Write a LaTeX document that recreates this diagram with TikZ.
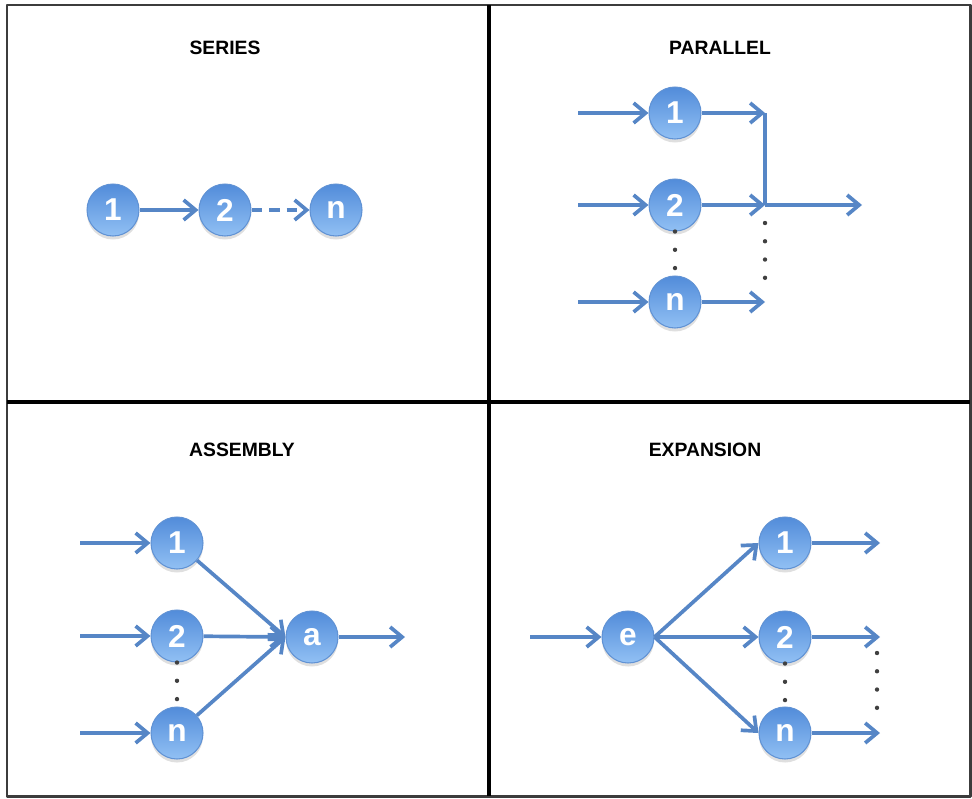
\documentclass[tikz,border=0pt]{standalone}
\usepackage{fontspec}
\setmainfont{Liberation Sans}
\usetikzlibrary{arrows.meta,shadows}
\definecolor{flowblue}{RGB}{86,134,198}
\definecolor{balltop}{RGB}{82,140,218}
\definecolor{ballbot}{RGB}{145,192,244}
\definecolor{ballrim}{RGB}{96,146,212}
\definecolor{framegray}{RGB}{60,60,60}
\begin{document}
\begin{tikzpicture} [x=0.02cm, y=-0.02cm, line join=round, >={Straight Barb[length=2.4mm,width=4mm]},
	ball/.style={circle, minimum size=1.04cm, inner sep=0pt, top color=balltop, bottom color=ballbot, draw=ballrim, line width=0.6pt, text=white, font=\bfseries\fontsize{18}{18}\selectfont, drop shadow={shadow xshift=0pt, shadow yshift=-2pt, opacity=0.25}},
	flow/.style={draw=flowblue, line width=2.1pt, ->},
	title/.style={font=\bfseries\fontsize{11}{13}\selectfont},
	dots/.style={draw=black!75, line width=2.5pt, line cap=round, dash pattern=on 0pt off 10.4pt}]
				\useasboundingbox (0,0) rectangle (972,798);
				\draw[framegray, line width=1.7pt] (7,5) rectangle (970,796);
				\draw[black, line width=1.8pt] (489,5)--(489,796);
				\draw[black, line width=1.8pt] (7,402)--(970,402);
				% series
				\node[title] (ttlS) at (225,48) {SERIES};
				\node[ball] (s1) at (113,210) {1};
				\node[ball] (s2) at (225,210) {2};
				\node[ball] (sn) at (336,210) {n};
				\draw[flow] (s1)--(s2);
				\draw[flow, dash pattern=on 6pt off 4pt] (s2)--(sn);
				% parallel
				\node[title] (ttlP) at (720,48) {PARALLEL};
				\node[ball] (p1) at (675,113) {1};
				\node[ball] (p2) at (675,205) {2};
				\node[ball] (pn) at (675,302) {n};
				\path
				(578,113) coordinate(pin1)
				(578,205) coordinate(pin2)
				(578,302) coordinate(pinn)
				(765,113) coordinate(pj1)
				(765,205) coordinate(pj2)
				(765,302) coordinate(pjn)
				(765,223) coordinate(pdtop)
				(765,280) coordinate(pdbot)
				(862,205) coordinate(pout);
				\draw[flow] (pin1)--(p1);
				\draw[flow] (pin2)--(p2);
				\draw[flow] (pinn)--(pn);
				\draw[flow] (p1)--(pj1);
				\draw[flow] (p2)--(pj2);
				\draw[flow] (pn)--(pjn);
				\draw[flow, -] (pj1)--(pj2);
				\draw[flow] (pj2)--(pout);
				\draw[dots] (p2.south)--(pn.north);
				\draw[dots] (pdtop)--(pdbot);
				% assembly
				\node[title] (ttlA) at (242,450) {ASSEMBLY};
				\node[ball] (a1) at (177,543) {1};
				\node[ball] (a2) at (177,636) {2};
				\node[ball] (an) at (177,733) {n};
				\node[ball] (aa) at (312,637) {a};
				\path
				(80,543) coordinate(ain1)
				(80,636) coordinate(ain2)
				(80,733) coordinate(ainn)
				(405,637) coordinate(aout);
				\draw[flow] (ain1)--(a1);
				\draw[flow] (ain2)--(a2);
				\draw[flow] (ainn)--(an);
				\draw[flow] (a1)--(aa.west);
				\draw[flow] (a2)--(aa.west);
				\draw[flow] (an)--(aa.west);
				\draw[flow] (aa)--(aout);
				\draw[dots] (a2.south)--(an.north);
				% expansion
				\node[title] (ttlE) at (705,450) {EXPANSION};
				\node[ball] (ee) at (628,637) {e};
				\node[ball] (e1) at (785,543) {1};
				\node[ball] (e2) at (785,637) {2};
				\node[ball] (en) at (785,733) {n};
				\path
				(530,637) coordinate(ein)
				(880,543) coordinate(eout1)
				(880,637) coordinate(eout2)
				(880,733) coordinate(eoutn)
				(877,653) coordinate(edtop)
				(877,710) coordinate(edbot);
				\draw[flow] (ein)--(ee);
				\draw[flow] (ee.east)--(e1.west);
				\draw[flow] (ee.east)--(e2.west);
				\draw[flow] (ee.east)--(en.west);
				\draw[flow] (e1)--(eout1);
				\draw[flow] (e2)--(eout2);
				\draw[flow] (en)--(eoutn);
				\draw[dots] (e2.south)--(en.north);
				\draw[dots] (edtop)--(edbot);
			\end{tikzpicture}
\end{document}
